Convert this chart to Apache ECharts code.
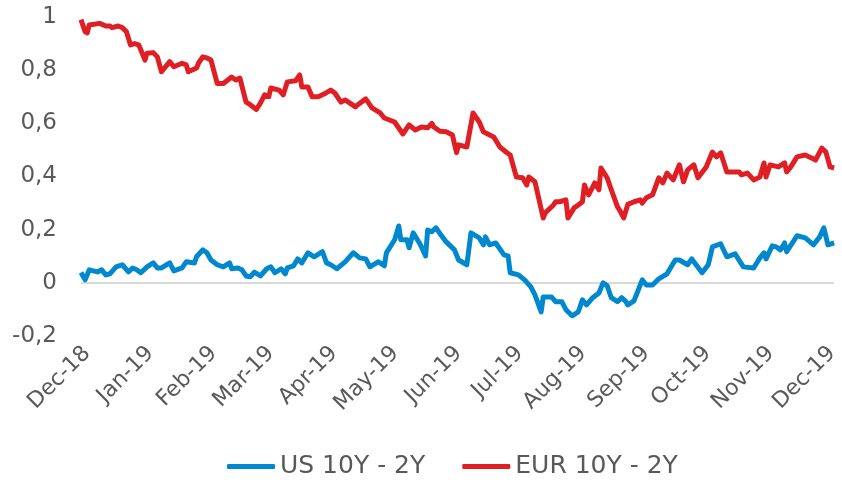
<!DOCTYPE html>
<html>
<head>
<meta charset="utf-8">
<script src="https://cdn.jsdelivr.net/npm/echarts@6/dist/echarts.min.js"></script>
<style>
  html, body { margin: 0; padding: 0; background: #fff; }
  #chart { width: 842px; height: 489px; }
</style>
</head>
<body>
<div id="chart"></div>
<script>
// days counted from 1 Dec 2018
const eurDays = [0, 2, 3, 4, 9, 12, 14, 15, 18, 20, 22, 24, 26, 28, 31, 32, 35, 37, 39, 43, 45, 49, 51, 52, 56, 57, 59, 61, 63, 66, 69, 73, 75, 77, 80, 82, 85, 87, 89, 91, 92, 96, 98, 100, 104, 106, 107, 110, 112, 115, 118, 121, 123, 126, 128, 133, 134, 138, 141, 145, 147, 152, 156, 159, 162, 165, 168, 170, 171, 174, 177, 180, 182, 183, 187, 190, 193, 195, 200, 203, 206, 208, 211, 214, 216, 217, 220, 224, 225, 229, 230, 232, 235, 236, 239, 241, 243, 244, 246, 249, 251, 252, 255, 257, 260, 261, 263, 265, 268, 271, 272, 274, 277, 280, 282, 284, 287, 290, 292, 294, 297, 299, 303, 306, 308, 310, 313, 319, 320, 323, 326, 329, 331, 332, 334, 338, 341, 342, 344, 347, 351, 354, 356, 359, 361, 363, 365];
const eurValues = [0.99, 0.945, 0.94, 0.97, 0.976, 0.966, 0.966, 0.96, 0.966, 0.96, 0.945, 0.895, 0.9, 0.895, 0.838, 0.864, 0.866, 0.85, 0.794, 0.832, 0.813, 0.826, 0.82, 0.794, 0.808, 0.827, 0.85, 0.846, 0.838, 0.75, 0.75, 0.774, 0.763, 0.77, 0.68, 0.67, 0.652, 0.677, 0.707, 0.7, 0.733, 0.725, 0.707, 0.756, 0.76, 0.782, 0.737, 0.737, 0.7, 0.7, 0.711, 0.725, 0.714, 0.68, 0.688, 0.662, 0.669, 0.692, 0.658, 0.639, 0.62, 0.605, 0.56, 0.594, 0.575, 0.586, 0.583, 0.6, 0.586, 0.57, 0.568, 0.556, 0.49, 0.519, 0.511, 0.639, 0.605, 0.568, 0.549, 0.511, 0.492, 0.481, 0.398, 0.395, 0.368, 0.398, 0.38, 0.244, 0.263, 0.293, 0.305, 0.305, 0.312, 0.244, 0.282, 0.293, 0.305, 0.368, 0.331, 0.376, 0.35, 0.432, 0.395, 0.35, 0.286, 0.274, 0.244, 0.295, 0.305, 0.312, 0.3, 0.32, 0.331, 0.395, 0.376, 0.413, 0.387, 0.444, 0.38, 0.425, 0.444, 0.395, 0.436, 0.492, 0.474, 0.489, 0.417, 0.417, 0.406, 0.413, 0.387, 0.398, 0.451, 0.398, 0.444, 0.436, 0.451, 0.417, 0.436, 0.474, 0.481, 0.47, 0.462, 0.507, 0.492, 0.436, 0.432];

const usDays = [0, 2, 4, 8, 10, 12, 14, 17, 20, 23, 25, 27, 29, 32, 35, 37, 39, 43, 45, 49, 50, 51, 55, 56, 59, 61, 63, 66, 69, 72, 73, 76, 78, 80, 82, 84, 87, 90, 92, 94, 97, 99, 100, 103, 105, 107, 110, 113, 117, 119, 121, 124, 128, 132, 135, 138, 140, 144, 145, 147, 148, 152, 154, 155, 158, 159, 161, 164, 165, 167, 168, 170, 172, 174, 177, 181, 183, 187, 189, 193, 195, 196, 198, 201, 205, 207, 208, 212, 215, 218, 220, 223, 224, 228, 230, 233, 235, 238, 241, 243, 245, 248, 251, 253, 255, 257, 260, 262, 264, 265, 268, 272, 274, 277, 280, 284, 288, 290, 294, 296, 301, 304, 306, 310, 313, 317, 321, 326, 329, 331, 332, 335, 337, 339, 341, 342, 347, 351, 355, 358, 360, 362, 365];
const usValues = [0.039, 0.011, 0.049, 0.041, 0.049, 0.03, 0.034, 0.06, 0.068, 0.041, 0.056, 0.049, 0.038, 0.06, 0.075, 0.056, 0.056, 0.075, 0.045, 0.056, 0.068, 0.079, 0.075, 0.098, 0.124, 0.113, 0.086, 0.068, 0.06, 0.075, 0.053, 0.056, 0.049, 0.026, 0.023, 0.04, 0.026, 0.053, 0.06, 0.038, 0.053, 0.034, 0.056, 0.064, 0.09, 0.075, 0.113, 0.098, 0.117, 0.075, 0.068, 0.053, 0.079, 0.113, 0.094, 0.09, 0.06, 0.079, 0.075, 0.064, 0.113, 0.162, 0.214, 0.162, 0.162, 0.132, 0.188, 0.15, 0.135, 0.101, 0.199, 0.192, 0.207, 0.185, 0.154, 0.124, 0.086, 0.068, 0.188, 0.169, 0.143, 0.173, 0.143, 0.15, 0.105, 0.101, 0.038, 0.03, 0.011, -0.015, -0.045, -0.109, -0.053, -0.053, -0.071, -0.071, -0.101, -0.124, -0.109, -0.064, -0.083, -0.056, -0.038, 0.0, -0.011, -0.056, -0.071, -0.056, -0.07, -0.083, -0.068, 0.011, -0.008, -0.008, 0.015, 0.034, 0.086, 0.086, 0.068, 0.09, 0.038, 0.068, 0.135, 0.147, 0.098, 0.109, 0.06, 0.056, 0.094, 0.113, 0.09, 0.139, 0.135, 0.124, 0.15, 0.117, 0.177, 0.169, 0.143, 0.173, 0.207, 0.143, 0.15];

const yTicks = [-0.2, 0, 0.2, 0.4, 0.6, 0.8, 1];
const monthNames = ['Jan', 'Feb', 'Mar', 'Apr', 'May', 'Jun', 'Jul', 'Aug', 'Sep', 'Oct', 'Nov', 'Dec'];

const start = new Date(2018, 11, 1).getTime();
const end = new Date(2019, 11, 1).getTime();
const DAY = 86400000;
const toPairs = (days, vals) => days.map((d, i) => [start + d * DAY, vals[i]]);

const chart = echarts.init(document.getElementById('chart'));
const textColor = '#595959';
const font = 'DejaVu Sans';

const monthLabel = v => {
  const d = new Date(v);
  return monthNames[d.getMonth()] + '-' + String(d.getFullYear()).slice(2);
};

chart.setOption({
  animation: false,
  grid: { left: 81, right: 1, top: 17, bottom: 153 },
  legend: {
    bottom: 5,
    left: 222,
    icon: 'roundRect',
    itemWidth: 48,
    itemHeight: 5,
    itemGap: 37,
    textStyle: { fontFamily: font, fontSize: 25, color: textColor },
    data: ['US 10Y - 2Y', 'EUR 10Y - 2Y']
  },
  xAxis: [
    {
      type: 'time',
      min: start,
      max: end,
      axisLine: { show: false },
      axisTick: { show: false },
      splitLine: { show: false },
      axisLabel: { show: false }
    },
    {
      // label-only axis, nudged so month labels sit where the original has them
      type: 'time',
      position: 'bottom',
      min: start - 3 * DAY,
      max: end + 1 * DAY,
      splitNumber: 12,
      axisLine: { show: false },
      axisTick: { show: false },
      splitLine: { show: false },
      axisLabel: {
        rotate: 45,
        margin: 14,
        fontFamily: font,
        fontSize: 22,
        color: textColor,
        showMinLabel: false,
        showMaxLabel: false,
        hideOverlap: false,
        formatter: monthLabel
      }
    }
  ],
  yAxis: {
    type: 'value',
    min: yTicks[0],
    max: yTicks[yTicks.length - 1],
    interval: 0.2,
    axisLine: { show: false },
    axisTick: { show: false },
    splitLine: {
      show: true,
      lineStyle: {
        width: 2,
        color: yTicks.map(t => (t === 0 ? '#d9d9d9' : 'rgba(0,0,0,0)'))
      }
    },
    axisLabel: {
      margin: 24,
      fontFamily: font,
      fontSize: 23,
      color: textColor,
      formatter: v => String(+v.toFixed(1)).replace('.', ',')
    }
  },
  series: [
    {
      name: 'US 10Y - 2Y',
      type: 'line',
      xAxisIndex: 0,
      data: toPairs(usDays, usValues),
      showSymbol: false,
      symbol: 'none',
      color: '#0088CE',
      lineStyle: { width: 5, color: '#0088CE', join: 'round' }
    },
    {
      name: 'EUR 10Y - 2Y',
      type: 'line',
      xAxisIndex: 0,
      data: toPairs(eurDays, eurValues),
      showSymbol: false,
      symbol: 'none',
      color: '#E01F24',
      lineStyle: { width: 5, color: '#E01F24', join: 'round' }
    }
  ]
});
</script>
</body>
</html>
